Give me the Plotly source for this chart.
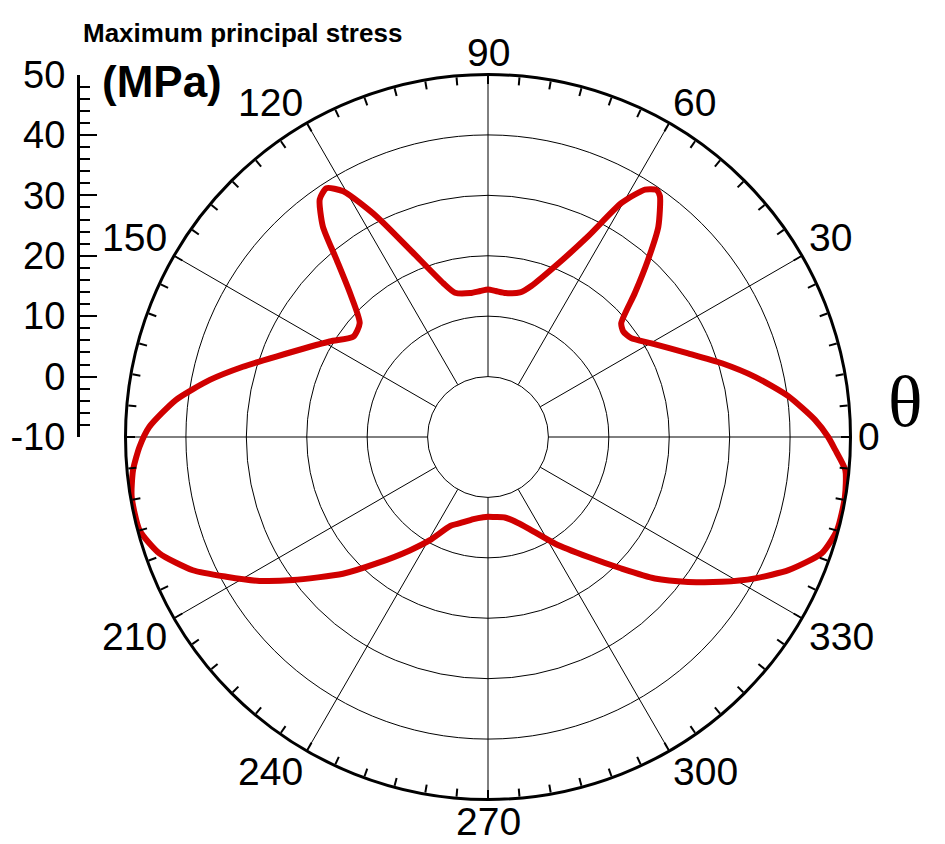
import math
import plotly.graph_objects as go

# ---- data ----
theta_deg = [0, 3.0, 7.7, 12.7, 17.5, 22.7, 29.8, 34.6, 38.0, 40.5, 44.4, 47.9, 51.0, 54.5,
             55.7, 57.6, 60.3, 63.5, 68.6, 74.0, 77.5, 83.0, 87.0, 90.0, 93.0, 97.0, 102.9,
             106.2, 112.6, 116.8, 120.5, 123.0, 125.3, 128.1, 130.5, 133.8, 138.4, 143.3,
             148.9, 159.2, 164.0, 168.4, 173.2, 178.3, 181.6, 185.3, 189.5, 195.0, 199.5,
             204.3, 208.1, 212.2, 216.3, 223.3, 228.6, 235.4, 240.6, 247.0, 252.0, 260.0,
             266.7, 270.0, 275.0, 281.7, 289.0, 293.7, 302.1, 309.9, 315.4, 319.7, 324.1,
             328.2, 332.1, 336.1, 340.8, 345.1, 350.5, 354.7, 357.9]
stress_mpa = [46.3, 44.2, 40.2, 35.3, 30.6, 25.9, 21.2, 18.8, 18.4, 19.0, 24.0, 29.5, 34.8, 39.0,
              39.5, 38.5, 34.6, 27.1, 20.3, 16.0, 14.5, 14.0, 14.2, 14.4, 14.2, 14.0, 14.5,
              16.5, 23.6, 30.9, 37.2, 39.1, 38.2, 34.3, 28.6, 23.0, 18.4, 17.8,
              20.6, 27.5, 32.2, 37.0, 42.0, 46.1, 47.7, 49.0, 49.8, 49.7, 47.7,
              43.6, 39.1, 34.7, 30.0, 23.0, 17.9, 12.8, 9.6, 6.0, 5.0, 3.8,
              3.3, 3.2, 3.3, 3.6, 5.0, 6.5, 10.8, 15.9, 21.0, 26.2, 30.9,
              35.5, 40.0, 44.4, 48.5, 49.8, 49.9, 49.4, 47.5]

angle_ticks = [0, 30, 60, 90, 120, 150, 180, 210, 240, 270, 300, 330]
angle_labels = ["0", "30", "60", "90", "120", "150", "", "210", "240", "270", "300", "330"]
radial_ticks = [-10, 0, 10, 20, 30, 40, 50]
radial_labels = ["-10", "0", "10", "20", "30", "40", "50"]

# The page body has an 8px default margin, so the figure is drawn 8px in;
# reference pixel positions are converted to figure pixels by subtracting OFF.
OFF = 8
W, H = 945 - OFF, 844 - OFF
FONT = "Liberation Sans, Arial, sans-serif"
LABEL_SIZE = 39


def px(x):
    return (x - OFF) / W


def py(y):
    return (H - (y - OFF)) / H


# geometry (reference pixels) of the polar circle
cx, cy, R = 488, 437, 362.5
dom_x = [px(cx - R), px(cx + R)]
dom_y = [py(cy + R), py(cy - R)]

fig = go.Figure()

fig.add_trace(go.Scatterpolar(
    r=stress_mpa + [stress_mpa[0]],
    theta=theta_deg + [theta_deg[0]],
    mode="lines",
    line=dict(color="#D00000", width=6, shape="spline", smoothing=0.6),
    subplot="polar",
    showlegend=False,
    hoverinfo="skip",
))

# invisible trace so the overlay polar (minor ticks, thick rim) is drawn
fig.add_trace(go.Scatterpolar(
    r=[0], theta=[0], mode="markers", marker=dict(opacity=0),
    subplot="polar2", showlegend=False, hoverinfo="skip",
))

# invisible trace for the vertical stress scale
fig.add_trace(go.Scatter(
    x=[0, 0], y=[radial_ticks[0], radial_ticks[-1]], mode="lines",
    line=dict(width=0, color="rgba(0,0,0,0)"),
    xaxis="x", yaxis="y", showlegend=False, hoverinfo="skip",
))

r_min = radial_ticks[0]
r_max = radial_ticks[-1]
hole = (0 - r_min) / (r_max - r_min)

# angle labels just outside the rim, corner-anchored like the reference
GAP = 8
char_w = 0.556 * LABEL_SIZE
digit_h = 0.716 * LABEL_SIZE
angle_annotations = []
for ang, lab in zip(angle_ticks, angle_labels):
    if not lab:
        continue
    c, s = math.cos(math.radians(ang)), math.sin(math.radians(ang))
    sx = 0 if abs(c) < 0.1 else (1 if c > 0 else -1)
    sy = 0 if abs(s) < 0.1 else (1 if s > 0 else -1)
    corner_x = cx + (R + GAP) * c
    corner_y = cy - (R + GAP) * s
    center_x = corner_x + sx * len(lab) * char_w / 2
    center_y = corner_y - sy * digit_h / 2
    angle_annotations.append(dict(
        text=lab, x=px(center_x), y=py(center_y),
        xref="paper", yref="paper", xanchor="center", yanchor="middle",
        borderpad=0,
        showarrow=False, font=dict(size=LABEL_SIZE, family=FONT, color="black"),
    ))

fig.update_layout(
    width=W, height=H,
    margin=dict(l=0, r=0, t=0, b=0, autoexpand=False),
    paper_bgcolor="white",
    plot_bgcolor="rgba(0,0,0,0)",
    showlegend=False,
    polar=dict(
        domain=dict(x=dom_x, y=dom_y),
        hole=hole,
        bgcolor="white",
        radialaxis=dict(
            range=[0, r_max],
            tickvals=radial_ticks[1:],
            showticklabels=False,
            ticks="",
            showline=False,
            gridcolor="black",
            gridwidth=1,
        ),
        angularaxis=dict(
            rotation=0,
            direction="counterclockwise",
            tickmode="array",
            tickvals=angle_ticks,
            ticktext=angle_labels,
            showticklabels=False,
            ticks="",
            showline=True,
            linecolor="black",
            linewidth=1,
            gridcolor="black",
            gridwidth=1,
        ),
    ),
    polar2=dict(
        domain=dict(x=dom_x, y=dom_y),
        hole=0,
        bgcolor="rgba(0,0,0,0)",
        radialaxis=dict(visible=False, range=[0, r_max]),
        angularaxis=dict(
            rotation=0,
            direction="counterclockwise",
            dtick=5,
            ticks="inside",
            ticklen=8,
            tickwidth=1.5,
            tickcolor="black",
            showticklabels=False,
            showgrid=False,
            showline=True,
            linecolor="black",
            linewidth=3,
        ),
    ),
    xaxis=dict(domain=[px(80), px(120)], range=[0, 1], visible=False, fixedrange=True,
               automargin=False),
    yaxis=dict(
        domain=[py(cy), py(cy - R)],
        range=[r_min, r_max],
        tickmode="array", tickvals=radial_ticks, ticktext=radial_labels,
        showline=True, linecolor="black", linewidth=3,
        ticks="inside", ticklen=17, tickwidth=2, tickcolor="black",
        minor=dict(tickmode="linear", tick0=r_min, dtick=2, ticks="inside",
                   ticklen=10, tickwidth=2, tickcolor="black", showgrid=False),
        showgrid=False, zeroline=False,
        tickfont=dict(size=38, family=FONT, color="black"),
        ticklabelstandoff=4,
        automargin=False,
        fixedrange=True,
    ),
    annotations=angle_annotations + [
        dict(text="<b>Maximum principal stress</b>", x=px(81), y=py(33),
             xref="paper", yref="paper", xanchor="left", yanchor="middle",
             showarrow=False, font=dict(size=26, family=FONT, color="black")),
        dict(text="<b>(MPa)</b>", x=px(100), y=py(81),
             xref="paper", yref="paper", xanchor="left", yanchor="middle",
             showarrow=False, font=dict(size=44, family=FONT, color="black")),
        dict(text="θ", x=px(886), y=py(402),
             xref="paper", yref="paper", xanchor="left", yanchor="middle",
             showarrow=False,
             font=dict(size=72, family="Liberation Serif, Times New Roman, serif",
                       color="black")),
    ],
)

fig.write_html("out.html")
